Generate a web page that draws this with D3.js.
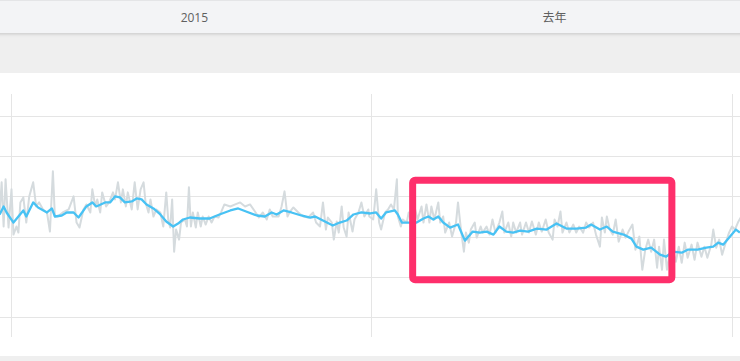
<!DOCTYPE html>
<html>
<head>
<meta charset="utf-8">
<script src="https://cdn.jsdelivr.net/npm/d3@7"></script>
<style>
  html, body { margin: 0; padding: 0; background: #fff; }
  svg { display: block; font-family: "Open Sans", "Noto Sans CJK SC", sans-serif; }
</style>
</head>
<body>
<svg id="chart" width="740" height="361"></svg>
<script>
// header labels for the two year columns
var headerLabels = ["2015", "去年"];

// day offsets from 2015-01-01 and values of the raw daily series (grey)
var rawDays = [-12,-10,-8,-6,-3,0,2,5,7,9,12,15,18,20,22,25,28,32,36,39,42,44,47,52,58,63,66,69,73,76,80,82,85,87,90,92,96,99,103,105,108,111,113,116,118,122,125,128,131,134,136,139,141,144,147,151,154,157,159,161,163,165,167,170,172,176,178,180,182,184,187,189,192,194,197,200,203,206,210,213,216,222,227,232,237,242,247,251,255,259,262,265,271,274,277,280,282,286,291,296,301,306,309,313,316,319,321,325,327,330,332,335,337,340,342,346,348,352,355,358,362,
  363,367,370,373,375,379,382,385,388,391,392,395,397,401,403,407,409,412,416,418,421,424,426,429,433,435,438,440,444,447,451,453,456,459,461,464,466,470,472,476,478,482,485,488,491,495,498,500,504,507,509,512,516,518,522,525,528,532,535,538,542,545,549,551,554,557,559,563,566,570,573,576,580,583,586,590,593,597,599,602,604,607,610,613,616,620,623,626,630,633,637,640,643,646,649,652,655,657,660,662,665,668,671,674,677,680,683,686,690,693,696,700,703,706,710,712,715,718,721,724,728,731,734,737,741];
var rawValues = [104,134,90,137,89,127,82,90,84,114,119,94,120,127,134,110,114,107,104,85,145,100,100,104,107,120,94,89,107,112,104,127,110,117,104,124,110,114,124,117,134,114,127,110,124,107,134,107,127,134,114,104,117,100,107,104,90,124,97,89,117,65,87,77,94,97,90,129,90,104,89,104,90,100,92,100,94,100,99,105,112,110,112,114,110,112,105,99,104,97,107,100,100,110,125,100,104,109,104,100,99,104,94,90,114,87,99,94,77,95,84,110,89,80,104,85,97,104,114,100,107,
  100,97,127,94,87,104,107,112,107,137,100,90,97,94,104,90,109,97,110,94,112,94,110,97,114,94,100,84,94,80,94,114,87,65,84,74,87,94,79,90,84,90,82,97,84,94,105,84,94,80,94,84,94,82,94,84,95,82,94,85,97,84,77,97,90,105,84,94,84,92,84,90,84,94,89,94,82,70,99,84,100,87,82,97,75,87,79,85,92,67,80,47,67,77,65,77,49,70,47,77,47,64,67,55,70,54,74,59,72,57,74,60,70,59,72,87,69,77,62,72,84,90,87,94,101];

// day offsets and values of the smoothed series (blue)
var avgDays = [-12,-8,-5,2,7,12,15,22,27,36,41,44,51,56,63,68,76,82,86,95,100,105,110,115,122,127,132,137,144,151,157,164,169,174,181,191,201,211,222,230,238,249,257,264,269,276,284,294,303,308,316,326,333,340,347,355,364,
  370,375,380,389,392,396,402,411,418,423,428,433,438,445,453,460,468,475,482,489,495,502,509,516,524,533,543,553,563,573,583,588,597,604,610,621,629,634,641,649,658,664,671,680,686,696,705,712,717,722,729,735,739];
var avgValues = [102,110,104,94,100,106,100,114,109,104,108,100,101,104,104,99,110,114,110,114,114,120,119,114,115,118,117,112,108,102,95,90,93,97,99,98,98,102,106,108,105,101,100,104,102,106,104,101,99,100,96,91,94,96,102,104,103,
  104,98,104,106,102,94,94,94,98,100,97,100,94,89,92,76,85,84,85,82,90,85,84,86,85,88,87,93,88,88,89,92,87,90,85,82,78,70,67,69,62,60,65,64,67,67,69,70,74,72,80,87,84];

// grid values and highlighted period
var yTicks = [0, 40, 80, 120, 160, 200];
var highlightDays = [407, 670];
var highlightValues = [37, 136];

var width = 740, height = 361;
var start = new Date(2015, 0, 1);
var dayToDate = function(d) { return d3.timeDay.offset(start, d); };

var svg = d3.select("#chart");

var x = d3.scaleTime()
    .domain([new Date(2015, 0, 1), new Date(2017, 0, 1)])
    .range([11.5, 732]);
var y = d3.scaleLinear()
    .domain([0, 200])
    .range([317, 116]);

// header bars
var defs = svg.append("defs");
var shadow = defs.append("filter").attr("id", "shadow").attr("x", "-5%").attr("y", "-50%").attr("width", "110%").attr("height", "200%");
shadow.append("feDropShadow").attr("dx", 0).attr("dy", 1.5).attr("stdDeviation", 1.5).attr("flood-color", "#000").attr("flood-opacity", 0.14);

svg.append("rect").attr("x", 0).attr("y", 33).attr("width", width).attr("height", 40).attr("fill", "#efefef");
svg.append("rect").attr("x", -5).attr("y", 0).attr("width", width + 10).attr("height", 33)
    .attr("fill", "#f3f4f6").attr("filter", "url(#shadow)");
svg.append("line").attr("x1", 0).attr("x2", width).attr("y1", 0.5).attr("y2", 0.5).attr("stroke", "#e4e5e7");

var years = x.ticks(d3.timeYear.every(1));
svg.append("g").selectAll("text")
    .data(headerLabels)
    .join("text")
    .attr("x", function(d, i) { return (x(years[i]) + x(years[i + 1])) / 2 + 3; })
    .attr("y", 21.5)
    .attr("text-anchor", "middle")
    .attr("font-size", 12)
    .attr("fill", "#606060")
    .text(function(d) { return d; });

// bottom strip
svg.append("rect").attr("x", 0).attr("y", 356).attr("width", width).attr("height", 5).attr("fill", "#efefef");

// grid
var grid = svg.append("g").attr("stroke", "#e5e5e5").attr("stroke-width", 1);
grid.selectAll(".h").data(yTicks).join("line")
    .attr("x1", 0).attr("x2", width)
    .attr("y1", function(d) { return Math.round(y(d)) + 0.5; })
    .attr("y2", function(d) { return Math.round(y(d)) + 0.5; });
grid.selectAll(".v").data(years).join("line")
    .attr("x1", function(d) { return Math.floor(x(d)) + 0.5; })
    .attr("x2", function(d) { return Math.floor(x(d)) + 0.5; })
    .attr("y1", 94).attr("y2", 337);

// series
var rawData = rawDays.map(function(d, i) { return { date: dayToDate(d), value: rawValues[i] }; });
var avgData = avgDays.map(function(d, i) { return { date: dayToDate(d), value: avgValues[i] }; });

var line = d3.line()
    .x(function(d) { return x(d.date); })
    .y(function(d) { return y(d.value); });

svg.append("path").datum(rawData)
    .attr("d", line)
    .attr("fill", "none")
    .attr("stroke", "#d5dbde")
    .attr("stroke-width", 2)
    .attr("stroke-linejoin", "round");

svg.append("path").datum(avgData)
    .attr("d", line)
    .attr("fill", "none")
    .attr("stroke", "#48c2f4")
    .attr("stroke-width", 2.3)
    .attr("stroke-linejoin", "round");

// highlight box
var hx0 = x(dayToDate(highlightDays[0])), hx1 = x(dayToDate(highlightDays[1]));
var hy0 = y(highlightValues[1]), hy1 = y(highlightValues[0]);
svg.append("rect")
    .attr("x", hx0).attr("y", hy0)
    .attr("width", hx1 - hx0).attr("height", hy1 - hy0)
    .attr("rx", 2.5)
    .attr("fill", "none")
    .attr("stroke", "#fe2f6b")
    .attr("stroke-width", 7);
</script>
</body>
</html>
